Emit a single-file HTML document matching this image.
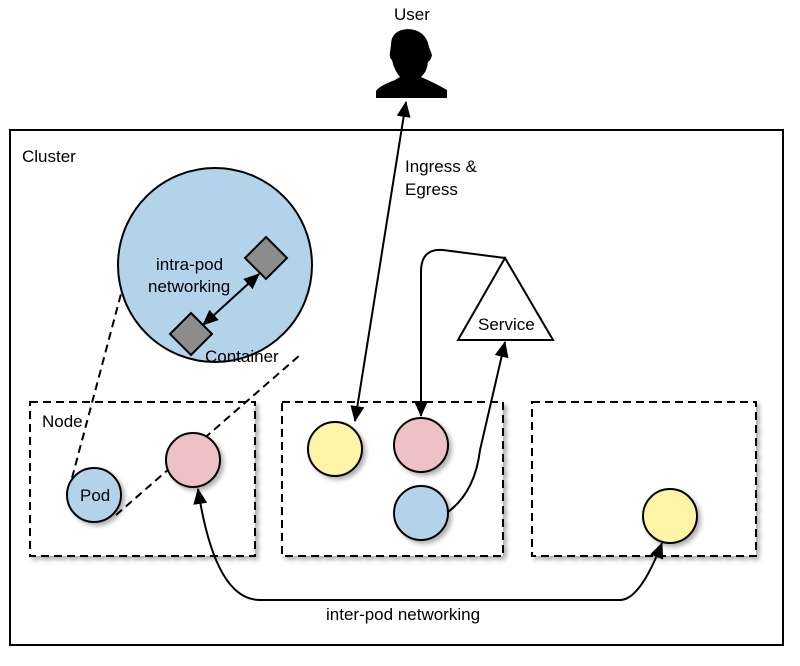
<!DOCTYPE html>
<html><head><style>
body{margin:0;background:#fff}
svg text{font-family:"Liberation Sans Narrow","Liberation Sans",sans-serif;font-size:17px;fill:#000}
</style></head><body>
<svg width="800" height="661" viewBox="0 0 800 661" xmlns="http://www.w3.org/2000/svg">
<defs>
<marker id="b" markerWidth="16" markerHeight="14" refX="15" refY="7" orient="auto-start-reverse" markerUnits="userSpaceOnUse" viewBox="0 0 16 14"><path d="M0,0 L16,7 L0,14 z" fill="#000"/></marker>
<filter id="s" x="-10%" y="-10%" width="130%" height="130%"><feDropShadow dx="3" dy="3" stdDeviation="2" flood-opacity="0.3"/></filter>
</defs>
<rect x="10" y="130" width="773" height="515" fill="#fff" stroke="#000" stroke-width="2"/>
<text x="22" y="162">Cluster</text>
<text x="394" y="20">User</text>
<path d="M376,98 L376,91 Q379,86 395,80 L400,77 Q394,70 392,60 Q389,58 390,52 L391,45 Q391,30 408,29 Q426,30 429,47 L432,55 Q431,60 428,62 Q427,72 421,77 Q437,84 447,90 L447,98 Z" fill="#000"/>
<g fill="#fff" stroke="#000" stroke-width="2" stroke-dasharray="8,5" filter="url(#s)">
<rect x="30" y="402" width="225" height="154"/>
<rect x="282" y="402" width="221" height="154"/>
<rect x="532" y="402" width="224" height="154"/>
</g>
<text x="42" y="427">Node</text>
<path d="M72,478 L122,290" stroke="#000" stroke-width="2" stroke-dasharray="8,5" fill="none"/>
<path d="M116,515 L300,355" stroke="#000" stroke-width="2" stroke-dasharray="8,5" fill="none"/>
<circle cx="215" cy="265" r="97" fill="#b3d3ea" stroke="#000" stroke-width="2"/>
<polygon points="266,237 287,258 266,279 245,258" fill="#8c8c8c" stroke="#000" stroke-width="2"/>
<polygon points="191,313 212,334 191,355 170,334" fill="#8c8c8c" stroke="#000" stroke-width="2"/>
<line x1="259" y1="274" x2="203" y2="325" stroke="#000" stroke-width="2" marker-end="url(#b)" marker-start="url(#b)"/>
<text x="156" y="270">intra-pod</text>
<text x="148" y="292">networking</text>
<text x="205" y="362">Container</text>
<g stroke="#000" stroke-width="2" filter="url(#s)">
<circle cx="94" cy="495" r="27" fill="#b3d3ea"/>
<circle cx="193" cy="460" r="27" fill="#edc1c5"/>
<circle cx="335" cy="449" r="27" fill="#fdf4a8"/>
<circle cx="421" cy="445" r="27" fill="#edc1c5"/>
<circle cx="421" cy="513" r="27" fill="#b3d3ea"/>
<circle cx="670" cy="516" r="27" fill="#fdf4a8"/>
</g>
<text x="80" y="501">Pod</text>
<polygon points="505,258 458,340 553,340" fill="#fff" stroke="#000" stroke-width="2"/>
<text x="478" y="330">Service</text>
<path d="M505,258 L443,250 Q421,248 421,272 L421,416" stroke="#000" stroke-width="2" fill="none" marker-end="url(#b)"/>
<path d="M448,512 Q475,492 480,450 L505,342" stroke="#000" stroke-width="2" fill="none" marker-end="url(#b)"/>
<line x1="406" y1="102" x2="355" y2="421" stroke="#000" stroke-width="2" marker-start="url(#b)" marker-end="url(#b)"/>
<text x="405" y="172">Ingress &amp;</text>
<text x="405" y="195">Egress</text>
<path d="M198,489 Q215,600 260,600 L620,600 Q640,600 662,543" stroke="#000" stroke-width="2" fill="none" marker-start="url(#b)" marker-end="url(#b)"/>
<text x="326" y="620">inter-pod networking</text>
</svg>
</body></html>
